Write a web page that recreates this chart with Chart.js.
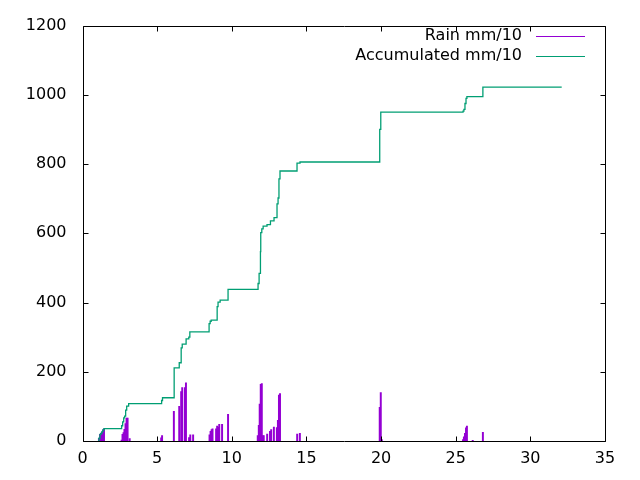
<!DOCTYPE html>
<html>
<head>
<meta charset="utf-8">
<script src="https://cdn.jsdelivr.net/npm/chart.js@4/dist/chart.umd.min.js"></script>
<style>html,body{margin:0;padding:0;background:#fff;}canvas{display:block;}</style>
</head>
<body>
<canvas id="c" width="640" height="480"></canvas>
<script>
const rainDays = [1.10,1.17,1.24,1.30,1.37,1.44, 2.62,2.68,2.75,2.81,2.88,2.95,3.02,3.16, 5.27,5.33, 6.12, 6.48, 6.61,6.68, 6.86,6.93, 7.14,7.22, 7.41, 8.51,8.58,8.65,8.71, 8.95,9.02,9.09,9.16, 9.35, 9.75, 11.74,11.81,11.87,11.94,12.01,12.07,12.14, 12.37, 12.56,12.64, 12.82, 13.02,13.09,13.16,13.23, 14.38, 14.56, 19.91,19.98,20.05, 25.49,25.55,25.62,25.69,25.75, 26.14, 26.82];
const rainValues = [8,19,22,25,32,35, 3,19,24,34,50,66,66,7, 9,16, 86, 100, 143,154, 154,168, 10,18, 18, 18,28,33,35, 35,43,40,48, 48, 77, 16,45,107,164,166,16,16, 20, 28,33, 40, 39,60,133,137, 20, 22, 97,140,4, 4,12,22,38,43, 2, 25];
const accDays = [1.04,1.10,1.17,1.24,1.30,1.37,1.44, 2.62,2.69,2.76,2.82,2.89,2.96,3.09, 5.30,5.36, 6.14,6.48,6.61,6.68,6.94,7.12,7.19, 8.48,8.55,8.62, 9.02,9.08,9.22, 9.75, 11.76,11.83,11.92,11.94,12.01,12.10,12.36,12.59,12.83,13.03,13.10,13.16,13.23, 14.37,14.57, 19.91,19.98, 25.49,25.55,25.62,25.69,25.75, 26.82,32.1];
const accValues = [0,8,19,22,27,32,36, 44,55,67,72,89,101,108, 117,125, 211,226,269,280,295,300,315, 339,346,349, 388,401,407, 438, 455,484,547,602,613,621,625,636,645,685,702,757,780, 803,806, 900,950, 953,958,975,990,995, 1022,1022];
const seriesLabels = ["Rain mm/10", "Accumulated mm/10"];
const seriesColors = ["#9400d3", "#009e73"];
const xTicks = {min: 0, max: 35, step: 5};
const yTicks = {min: 0, max: 1200, step: 200};

const FONT = "'DejaVu Sans', sans-serif";
const FSIZE = 16;

const framePlugin = {
  id: 'frame',
  afterDraw(chart) {
    const ctx = chart.ctx, a = chart.chartArea;
    const xs = chart.scales.x, ys = chart.scales.y;
    ctx.save();
    ctx.strokeStyle = '#000';
    ctx.lineWidth = 1;
    const L = Math.round(a.left) + 0.5, R = Math.round(a.right) + 0.5;
    const T = Math.round(a.top) + 0.5, B = Math.round(a.bottom) + 0.5;
    ctx.beginPath();
    ctx.rect(L, T, R - L, B - T);
    const tl = 5;
    for (let v = xTicks.min; v <= xTicks.max; v += xTicks.step) {
      const px = Math.round(xs.getPixelForValue(v)) + 0.5;
      ctx.moveTo(px, B); ctx.lineTo(px, B - tl);
      ctx.moveTo(px, T); ctx.lineTo(px, T + tl);
    }
    for (let v = yTicks.min; v <= yTicks.max; v += yTicks.step) {
      const py = Math.round(ys.getPixelForValue(v)) + 0.5;
      ctx.moveTo(L, py); ctx.lineTo(L + tl, py);
      ctx.moveTo(R, py); ctx.lineTo(R - tl, py);
    }
    ctx.stroke();
    // legend
    ctx.font = FSIZE + 'px ' + FONT;
    ctx.textAlign = 'right';
    ctx.textBaseline = 'middle';
    ctx.fillStyle = '#000';
    const rows = [36, 55.5];
    seriesLabels.forEach((lab, i) => {
      ctx.fillText(lab, 522, rows[i]);
      ctx.strokeStyle = seriesColors[i];
      ctx.beginPath();
      ctx.moveTo(536, Math.round(rows[i]) + 0.5);
      ctx.lineTo(585, Math.round(rows[i]) + 0.5);
      ctx.stroke();
    });
    ctx.restore();
  }
};

new Chart(document.getElementById('c'), {
  data: {
    datasets: [
      {
        type: 'bar',
        label: seriesLabels[0],
        data: rainDays.map((d, i) => ({x: d, y: rainValues[i]})),
        backgroundColor: seriesColors[0],
        borderWidth: 0,
        barThickness: 1.3,
        order: 2
      },
      {
        type: 'line',
        label: seriesLabels[1],
        data: accDays.map((d, i) => ({x: d, y: accValues[i]})),
        borderColor: seriesColors[1],
        borderWidth: 1.3,
        stepped: 'before',
        pointRadius: 0,
        fill: false,
        order: 1
      }
    ]
  },
  options: {
    responsive: false,
    animation: false,
    devicePixelRatio: 1,
    layout: {padding: {top: 22, right: 35, left: 0, bottom: 0}},
    plugins: {legend: {display: false}, tooltip: {enabled: false}},
    scales: {
      x: {
        type: 'linear', min: xTicks.min, max: xTicks.max,
        offset: false,
        grid: {display: false, drawTicks: false},
        border: {display: false},
        ticks: {stepSize: xTicks.step, color: '#000', font: {family: FONT, size: FSIZE}, padding: 8, maxRotation: 0, autoSkip: false,
                callback: v => String(v)},
        afterFit(s) { s.height = 39; }
      },
      y: {
        type: 'linear', min: yTicks.min, max: yTicks.max,
        grid: {display: false, drawTicks: false},
        border: {display: false},
        ticks: {stepSize: yTicks.step, color: '#000', font: {family: FONT, size: FSIZE}, padding: 16,
                callback: v => String(v)},
        afterFit(s) { s.width = 82.5; }
      }
    }
  },
  plugins: [framePlugin]
});
</script>
</body>
</html>
